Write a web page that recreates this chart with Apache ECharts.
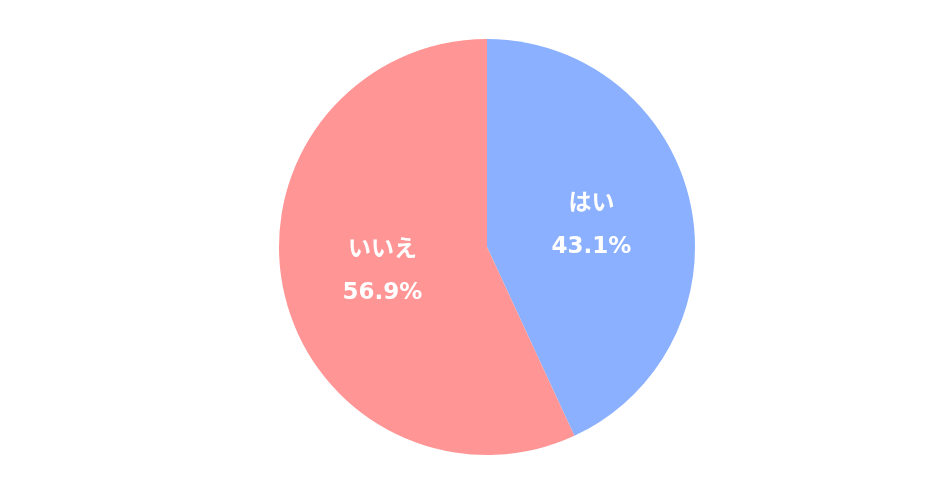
<!DOCTYPE html>
<html><head><meta charset="utf-8">
<script src="https://cdn.jsdelivr.net/npm/echarts@6/dist/echarts.min.js"></script>
<style>html,body{margin:0;padding:0;background:#fff}#c{width:947px;height:495px}</style>
</head><body><div id="c"></div>
<script>
const categories = ['はい', 'いいえ'];
const values = [43.1, 56.9];
const colors = ['#8AB0FF', '#FF9595'];
const chart = echarts.init(document.getElementById('c'));
chart.setOption({
  animation: false,
  series: [{
    type: 'pie',
    center: [487, 247],
    radius: [0, 208],
    startAngle: 90,
    clockwise: true,
    data: categories.map((n, i) => ({ name: n, value: values[i], itemStyle: { color: colors[i] } })),
    itemStyle: { borderWidth: 0 },
    label: {
      show: true,
      position: 'inner',
      formatter: p => '{n|' + p.name + '}\n{v|' + p.value.toFixed(1) + '%}',
      color: '#fff',
      fontWeight: 'bold',
      rich: {
        n: { fontSize: 23, fontWeight: 'bold', color: '#fff', fontFamily: '"Noto Sans CJK JP", sans-serif', lineHeight: 46 },
        v: { fontSize: 23, fontWeight: 'bold', color: '#fff', fontFamily: '"DejaVu Sans", sans-serif', lineHeight: 46 }
      }
    },
    labelLine: { show: false },
    emphasis: { disabled: true }
  }]
});
</script></body></html>
